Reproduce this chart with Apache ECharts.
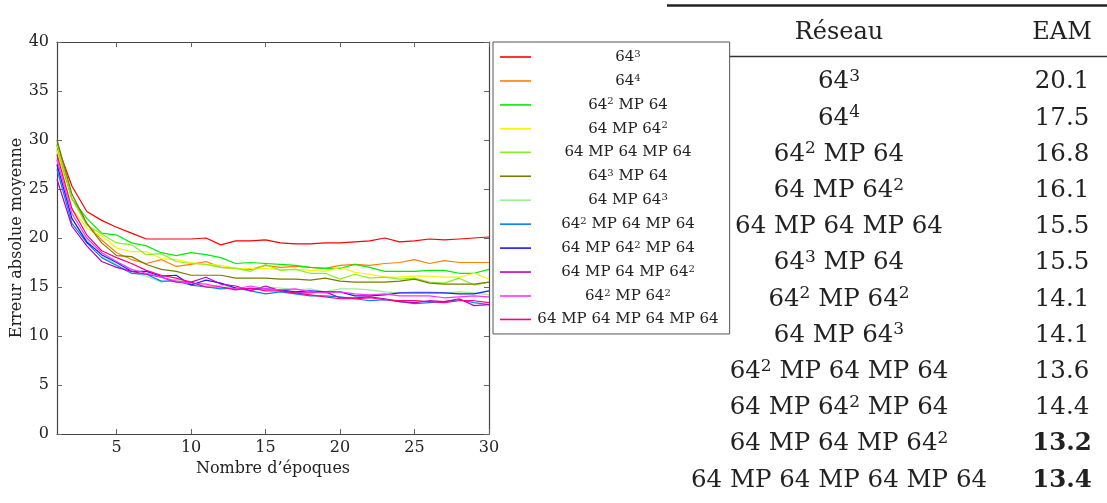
<!DOCTYPE html>
<html><head><meta charset="utf-8">
<script src="https://cdn.jsdelivr.net/npm/echarts@6/dist/echarts.min.js"></script>
<style>html,body{margin:0;padding:0;background:#fff}#c{width:1107px;height:503px}</style>
</head><body><div id="c"></div>
<script>
// ---- data ----
const epochs = [1,2,3,4,5,6,7,8,9,10,11,12,13,14,15,16,17,18,19,20,21,22,23,24,25,26,27,28,29,30];
const seriesNames = ['64^3','64^4','64^2 MP 64','64 MP 64^2','64 MP 64 MP 64','64^3 MP 64','64 MP 64^3','64^2 MP 64 MP 64','64 MP 64^2 MP 64','64 MP 64 MP 64^2','64^2 MP 64^2','64 MP 64 MP 64 MP 64'];
const s_64_3 = [29.5,25.3,22.7,21.8,21.1,20.5,19.9,19.9,19.9,19.9,20.0,19.3,19.7,19.7,19.8,19.5,19.4,19.4,19.5,19.5,19.6,19.7,20.0,19.6,19.7,19.9,19.8,19.9,20.0,20.1];
const s_64_4 = [29.0,24.0,21.5,19.8,18.5,17.8,17.4,17.8,17.1,17.3,17.6,17.0,16.9,16.8,17.2,17.0,17.1,17.0,16.9,17.2,17.3,17.2,17.4,17.5,17.8,17.4,17.7,17.5,17.5,17.5];
const s_64_2_MP_64 = [29.5,24.0,22.0,20.5,20.3,19.5,19.2,18.5,18.2,18.5,18.3,18.0,17.4,17.5,17.4,17.3,17.2,17.0,16.9,16.9,17.3,17.0,16.6,16.6,16.6,16.7,16.7,16.4,16.4,16.8];
const s_64_MP_64_2 = [29.0,23.0,21.0,20.2,19.0,18.6,18.6,17.9,17.8,17.5,17.3,17.2,16.9,16.9,16.9,16.8,16.8,16.7,16.6,17.0,16.5,16.3,16.0,16.0,16.1,16.1,16.0,16.0,16.4,15.8];
const s_64_MP_64_MP_64 = [29.5,24.0,21.3,20.4,19.5,19.3,18.3,18.4,17.6,17.4,17.3,17.0,16.9,16.6,17.3,16.7,16.8,16.4,16.4,15.8,16.3,15.9,16.0,15.8,15.9,15.5,15.4,15.9,15.2,15.5];
const s_64_3_MP_64 = [30.0,24.5,21.5,19.5,18.2,18.1,17.3,16.8,16.6,16.2,16.2,16.2,15.9,15.9,15.9,15.8,15.8,15.7,15.9,15.6,15.5,15.5,15.5,15.6,15.8,15.4,15.3,15.3,15.3,15.5];
const s_64_MP_64_3 = [28.0,22.0,19.8,18.2,17.3,16.5,16.1,15.5,15.8,15.3,15.1,15.2,14.9,14.8,15.0,14.9,14.7,14.8,14.5,14.8,14.8,14.7,14.5,14.4,14.5,14.5,14.4,14.5,14.4,14.2];
const s_64_2_MP_64_MP_64 = [27.0,21.5,19.5,18.0,17.2,16.4,16.3,15.6,15.6,15.2,15.0,14.8,14.9,14.6,14.3,14.5,14.3,14.1,14.1,14.0,13.8,13.6,13.7,13.5,13.3,13.4,13.5,13.7,13.4,13.2];
const s_64_MP_64_2_MP_64 = [27.5,22.0,19.6,18.3,17.5,16.6,16.6,16.1,16.2,15.2,15.7,15.4,14.9,14.8,14.8,14.7,14.5,14.6,14.5,14.5,14.1,14.1,14.2,14.4,14.4,14.4,14.4,14.3,14.3,14.6];
const s_64_MP_64_MP_64_2 = [26.0,21.2,19.2,17.6,17.0,16.6,16.3,16.0,15.5,15.5,16.0,15.3,15.1,14.6,15.1,14.6,14.4,14.4,14.5,13.9,13.9,14.0,13.8,13.5,13.4,13.6,13.5,13.8,13.1,13.2];
const s_64_2_MP_64_2 = [28.0,22.5,20.0,18.5,17.6,16.8,16.4,16.0,15.6,15.4,15.3,15.0,14.8,15.1,14.8,14.7,14.8,14.5,14.4,14.5,14.3,14.2,14.3,14.1,14.1,14.1,13.9,14.0,14.1,14.0];
const s_64_MP_64_MP_64_MP_64 = [28.5,23.0,20.3,18.7,18.0,17.4,16.7,16.2,15.9,15.5,15.0,15.0,14.7,14.9,14.6,14.6,14.4,14.2,14.0,13.8,13.8,13.9,13.7,13.6,13.6,13.5,13.4,13.6,13.6,13.4];
const seriesValues = [s_64_3,s_64_4,s_64_2_MP_64,s_64_MP_64_2,s_64_MP_64_MP_64,s_64_3_MP_64,s_64_MP_64_3,s_64_2_MP_64_MP_64,s_64_MP_64_2_MP_64,s_64_MP_64_MP_64_2,s_64_2_MP_64_2,s_64_MP_64_MP_64_MP_64];
const xTicks = [5,10,15,20,25,30];
const tableHeader = ['Réseau','EAM'];
const tableNets = ['64^3','64^4','64^2 MP 64','64 MP 64^2','64 MP 64 MP 64','64^3 MP 64','64^2 MP 64^2','64 MP 64^3','64^2 MP 64 MP 64','64 MP 64^2 MP 64','64 MP 64 MP 64^2','64 MP 64 MP 64 MP 64'];
const tableEAM = ['20.1','17.5','16.8','16.1','15.5','15.5','14.1','14.1','13.6','14.4','13.2','13.4'];
const tableBold = [false,false,false,false,false,false,false,false,false,false,true,true];
const xTitle = 'Nombre d’époques';
const yTitle = 'Erreur absolue moyenne';

// ---- rendering ----
const FONT = 'DejaVu Serif';
const colors = ['#ff0000','#ff8000','#00ee00','#f5f500','#88ee22','#7a7a00','#99ee99','#0080ff','#1a1aff','#c000c0','#ff33ff','#ff0080'];
function toRich(label, n, s) {
  return label.split(/(\^\d)/).filter(Boolean).map(p => p[0] === '^' ? '{' + s + '|' + p.slice(1) + '}' : '{' + n + '|' + p + '}').join('');
}
const chart = echarts.init(document.getElementById('c'), null, {renderer: 'canvas'});
const rowY0 = 82, rowDY = 36.2;
const graphics = [
  {type: 'line', z: 0, shape: {x1: 667, y1: 5.5, x2: 1107, y2: 5.5}, style: {stroke: '#222', lineWidth: 2.4}},
  {type: 'line', z: 0, shape: {x1: 667, y1: 56.5, x2: 1107, y2: 56.5}, style: {stroke: '#333', lineWidth: 1.3}},
  {type: 'text', z: 0, x: 839, y: 33, style: {text: tableHeader[0], font: '24px "' + FONT + '"', fill: '#222', align: 'center', verticalAlign: 'middle'}},
  {type: 'text', z: 0, x: 1062, y: 33, style: {text: tableHeader[1], font: '24px "' + FONT + '"', fill: '#222', align: 'center', verticalAlign: 'middle'}}
];
tableNets.forEach((net, i) => {
  const y = rowY0 + i * rowDY;
  graphics.push({type: 'text', z: 0, x: 839, y: y, style: {
    text: toRich(net, 'n', 's'), align: 'center', verticalAlign: 'middle', fill: '#222',
    rich: {
      n: {fontFamily: FONT, fontSize: 24.5, lineHeight: 28, color: '#222', align: 'center'},
      s: {fontFamily: FONT, fontSize: 17, lineHeight: 17, color: '#222', verticalAlign: 'top', align: 'center'}
    }
  }});
  graphics.push({type: 'text', z: 0, x: 1062, y: y, style: {
    text: tableEAM[i], fontFamily: FONT, fontSize: 24.5, fontWeight: tableBold[i] ? 'bold' : 'normal',
    fill: '#222', align: 'center', verticalAlign: 'middle'
  }});
});

const axisCommon = {
  type: 'value', splitLine: {show: false},
  axisLine: {show: true, onZero: false, lineStyle: {color: '#444', width: 1.2}},
  axisTick: {show: true, inside: true, length: 5, lineStyle: {color: '#666', width: 1}}
};
const option = {
  animation: false,
  backgroundColor: '#fff',
  grid: {left: 57, right: 618, top: 42, bottom: 69, containLabel: false},
  xAxis: [
    Object.assign({}, axisCommon, {position: 'bottom', min: 1, max: 30,
      name: xTitle, nameLocation: 'middle', nameGap: 23,
      nameTextStyle: {fontFamily: FONT, fontSize: 16, color: '#222'},
      axisTick: Object.assign({}, axisCommon.axisTick, {customValues: xTicks}),
      axisLabel: {customValues: xTicks, fontFamily: FONT, fontSize: 16, color: '#222', margin: 6}}),
    Object.assign({}, axisCommon, {position: 'top', min: 1, max: 30,
      axisTick: Object.assign({}, axisCommon.axisTick, {customValues: xTicks}),
      axisLabel: {show: false}})
  ],
  yAxis: [
    Object.assign({}, axisCommon, {position: 'left', min: 0, max: 40, interval: 5,
      name: yTitle, nameLocation: 'middle', nameGap: 20,
      nameTextStyle: {fontFamily: FONT, fontSize: 16, color: '#222'},
      axisLabel: {fontFamily: FONT, fontSize: 16, color: '#222', margin: 8}}),
    Object.assign({}, axisCommon, {position: 'right', min: 0, max: 40, interval: 5,
      axisLabel: {show: false}})
  ],
  legend: {
    orient: 'vertical', left: 493, top: 42,
    padding: [7, 11, 7, 7], itemGap: 8.45, itemWidth: 31, itemHeight: 1.6,
    icon: 'rect',
    backgroundColor: '#fff', borderColor: '#555', borderWidth: 1, z: 10,
    data: seriesNames,
    formatter: name => toRich(name, 'n', 's'),
    textStyle: {
      width: 184, fontFamily: FONT, fontSize: 15, color: '#222',
      rich: {
        n: {fontFamily: FONT, fontSize: 15, lineHeight: 16, color: '#222', align: 'center'},
        s: {fontFamily: FONT, fontSize: 10, lineHeight: 10, color: '#222', verticalAlign: 'top', align: 'center'}
      }
    }
  },
  graphic: graphics,
  series: seriesNames.map((name, i) => ({
    name: name, type: 'line', symbol: 'none', xAxisIndex: 0, yAxisIndex: 0,
    data: epochs.map((e, k) => [e, seriesValues[i][k]]),
    lineStyle: {color: colors[i], width: 1.2}, itemStyle: {color: colors[i]},
    emphasis: {disabled: true}
  }))
};
chart.setOption(option);
</script></body></html>
